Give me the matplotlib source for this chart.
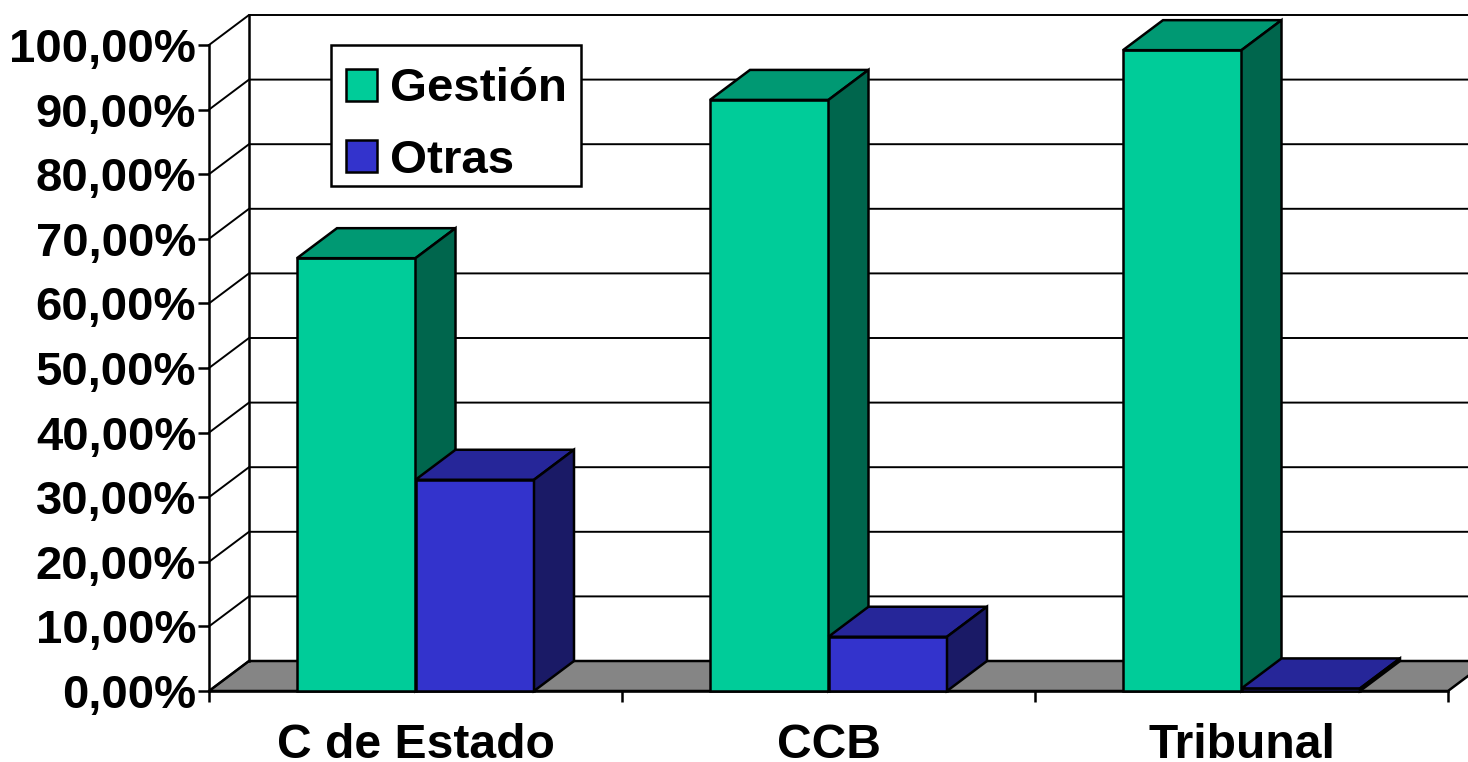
import matplotlib
matplotlib.use('Agg')
import matplotlib.pyplot as plt
from matplotlib.patches import Patch, Rectangle
import numpy as np

categories = ['C de Estado', 'CCB', 'Tribunal']
gestion = [67.0, 91.5, 99.2]
otras = [32.7, 8.4, 0.4]
y_ticks = [0, 10, 20, 30, 40, 50, 60, 70, 80, 90, 100]
y_labels = ['0,00%', '10,00%', '20,00%', '30,00%', '40,00%', '50,00%',
            '60,00%', '70,00%', '80,00%', '90,00%', '100,00%']

W, H = 1468, 762
plt.rcParams['font.family'] = ['Liberation Sans', 'DejaVu Sans']
plt.rcParams['font.weight'] = 'bold'
plt.rcParams['font.size'] = 34

fig = plt.figure(figsize=(W / 100, H / 100), dpi=100)
ax = fig.add_axes([209 / W, 1 - 691 / H, 1239 / W, 646 / H])
ax.set_xlim(0, 3)
ax.set_ylim(0, 100)

# depth of the fake 3d, in data units
dx = 40 / 413
dy = 30 / 6.46
bar_w = 118.5 / 413
lw = 1.8

for s in ['top', 'right']:
    ax.spines[s].set_visible(False)
for s in ['left', 'bottom']:
    ax.spines[s].set_linewidth(lw)

# floor
ax.fill([0, 3, 3 + dx, dx], [0, 0, dy, dy], facecolor='#858585', edgecolor='black',
        lw=lw, clip_on=False, zorder=1)

# back wall and gridlines
for t in y_ticks:
    ax.plot([0, dx, 3 + dx], [t, t + dy, t + dy], color='black', lw=1.4,
            clip_on=False, zorder=1.5, solid_joinstyle='miter')
ax.plot([dx, dx], [dy, 100 + dy], color='black', lw=lw, clip_on=False, zorder=1.5)


def bar3d(x, h, front, top, side):
    ax.bar(x, h, bar_w, align='edge', facecolor=front, edgecolor='black', lw=lw,
           clip_on=False, zorder=3)
    ax.fill([x, x + bar_w, x + bar_w + dx, x + dx], [h, h, h + dy, h + dy],
            facecolor=top, edgecolor='black', lw=lw, clip_on=False, zorder=3)
    ax.fill([x + bar_w, x + bar_w + dx, x + bar_w + dx, x + bar_w], [0, dy, h + dy, h],
            facecolor=side, edgecolor='black', lw=lw, clip_on=False, zorder=3)


for i in range(len(categories)):
    left = i + 0.5 - bar_w
    bar3d(left, gestion[i], '#00CC99', '#009973', '#00664D')
    bar3d(left + bar_w, otras[i], '#3333CC', '#262699', '#1A1A66')

ax.set_yticks(y_ticks)
ax.set_yticklabels(y_labels, fontsize=34)
ax.tick_params(axis='y', length=8, width=lw, pad=1.2)

ax.set_xticks(np.arange(len(categories)) + 0.5)
ax.set_xticklabels(categories, fontsize=34.6)
ax.tick_params(axis='x', which='major', length=0, pad=23)
ax.set_xticks(np.arange(len(categories) + 1), minor=True)
ax.tick_params(axis='x', which='minor', length=8, width=lw)

# legend box drawn apart, the rows are not centred in it
ax.add_patch(Rectangle((331 / W, 1 - 186 / H), 250 / W, 141 / H, transform=fig.transFigure,
                       facecolor='white', edgecolor='black', lw=lw, clip_on=False, zorder=4))
handles = [Patch(facecolor='#00CC99', edgecolor='black', lw=lw),
           Patch(facecolor='#3333CC', edgecolor='black', lw=lw)]
leg = ax.legend(handles, ['Gestión', 'Otras'], loc='upper left',
                bbox_to_anchor=(331.5 / W, 1 - 53 / H), bbox_transform=fig.transFigure,
                borderaxespad=0, frameon=False,
                handlelength=0.66, handleheight=0.66, handletextpad=0.28,
                labelspacing=0.58, borderpad=0.3, fontsize=34.2)
leg.set_zorder(5)

fig.savefig('out.png', dpi=100)
